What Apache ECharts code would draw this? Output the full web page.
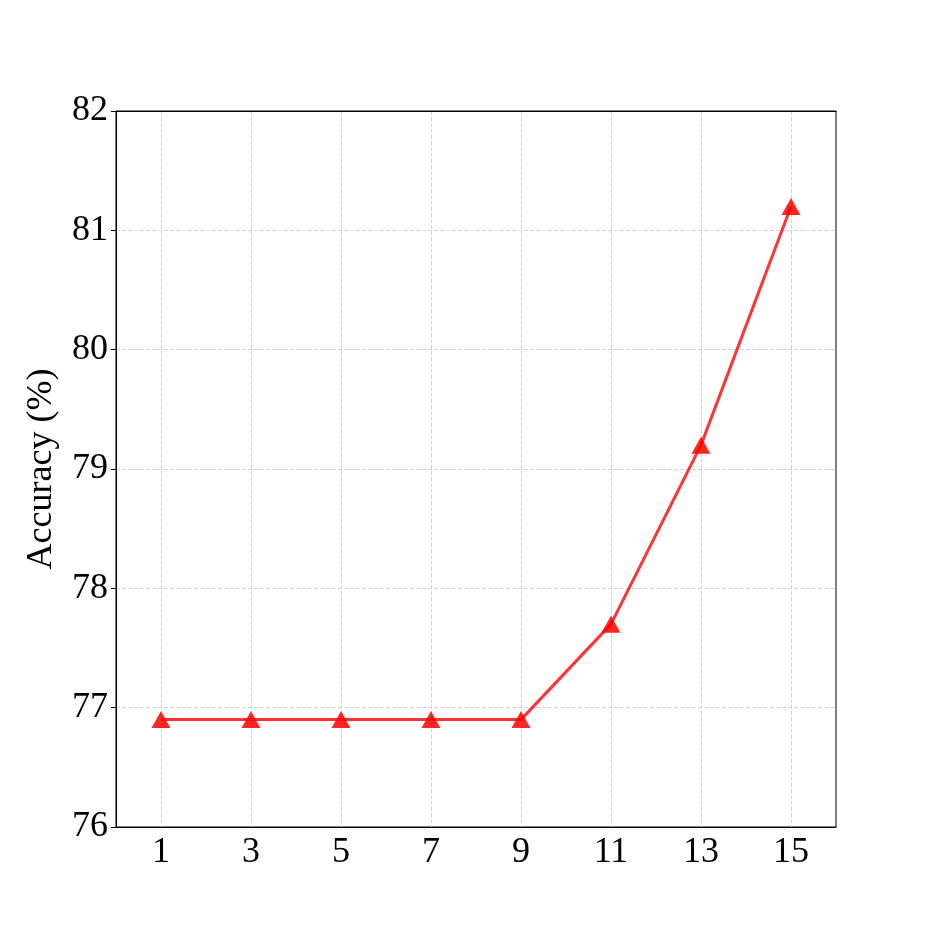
<!DOCTYPE html>
<html>
<head>
<meta charset="utf-8">
<script src="https://cdn.jsdelivr.net/npm/echarts@6/dist/echarts.min.js"></script>
<style>
  html, body { margin: 0; padding: 0; background: #fff; }
  #chart { width: 930px; height: 930px; }
</style>
</head>
<body>
<div id="chart"></div>
<script>
// data
var categories = ['1', '3', '5', '7', '9', '11', '13', '15']
var accuracy = [76.9, 76.9, 76.9, 76.9, 76.9, 77.7, 79.2, 81.2]
var yTicks = [76, 77, 78, 79, 80, 81, 82]

var font = '"Liberation Serif", "DejaVu Serif", serif'
var myChart = echarts.init(document.getElementById('chart'))

var option = {
  animation: false,
  backgroundColor: '#fff',
  grid: {
    left: 116,
    right: 94,
    top: 111,
    bottom: 103,
    show: true,
    borderColor: '#000',
    borderWidth: 1
  },
  xAxis: [
    {
      type: 'category',
      data: categories,
      boundaryGap: true,
      axisLine: { lineStyle: { color: '#000', width: 1 } },
      axisTick: { alignWithLabel: true, length: 5, lineStyle: { color: '#000' } },
      axisLabel: { fontFamily: font, fontSize: 36, color: '#000', margin: 8 },
      splitLine: {
        show: true,
        alignWithLabel: true,
        lineStyle: { color: '#d3d3d3', type: [4, 2], width: 1 }
      }
    },
    {
      // top frame line, drawn above the grid lines
      type: 'category',
      position: 'top',
      data: categories,
      axisLine: { show: true, lineStyle: { color: '#000', width: 1 } },
      axisTick: { show: false },
      axisLabel: { show: false },
      splitLine: { show: false }
    }
  ],
  yAxis: {
    type: 'value',
    min: yTicks[0],
    max: yTicks[yTicks.length - 1],
    interval: 1,
    name: 'Accuracy (%)',
    nameLocation: 'middle',
    nameGap: 56,
    nameTextStyle: { fontFamily: font, fontSize: 36, color: '#000' },
    axisLine: { show: true, lineStyle: { color: '#000', width: 1 } },
    axisTick: { show: true, length: 5, lineStyle: { color: '#000' } },
    axisLabel: { fontFamily: font, fontSize: 36, color: '#000', margin: 8 },
    splitLine: {
      show: true,
      lineStyle: { color: '#d3d3d3', type: [4, 2], width: 1 }
    }
  },
  series: [
    {
      type: 'line',
      data: accuracy,
      symbol: 'triangle',
      symbolSize: [19, 17],
      lineStyle: { color: 'rgba(255,0,0,0.8)', width: 3 },
      itemStyle: { color: 'rgba(255,0,0,0.85)' }
    }
  ]
}
myChart.setOption(option)
</script>
</body>
</html>
